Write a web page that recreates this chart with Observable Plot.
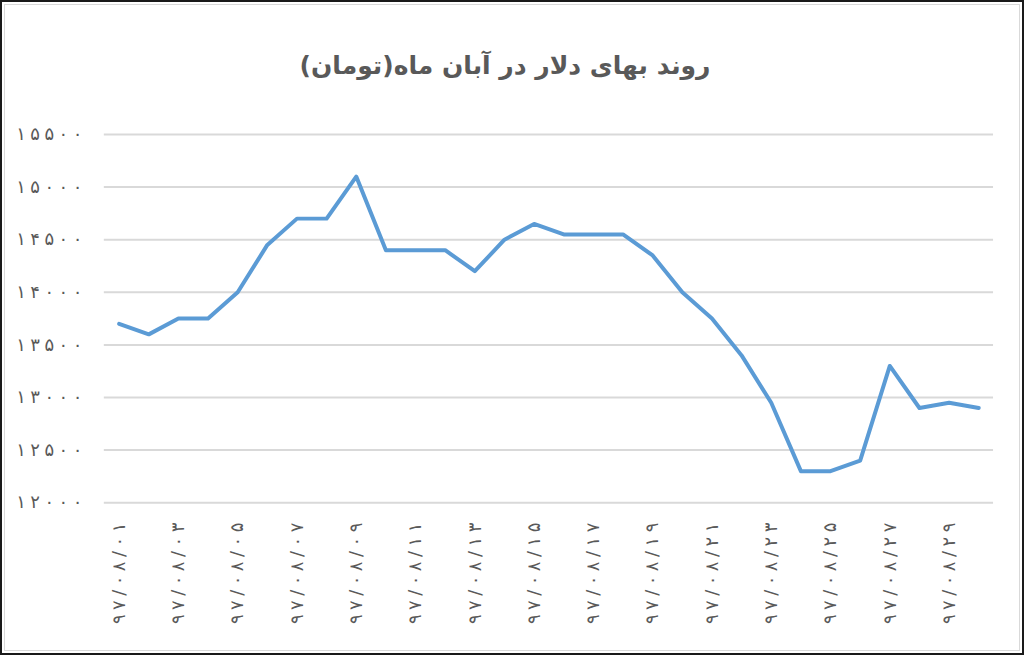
<!DOCTYPE html>
<html>
<head>
<meta charset="utf-8">
<script src="https://cdn.jsdelivr.net/npm/d3@7"></script>
<script src="https://cdn.jsdelivr.net/npm/@observablehq/plot@0.6"></script>
<style>
  html, body { margin: 0; padding: 0; background: #fff; }
  #frame {
    width: 1024px; height: 655px; box-sizing: border-box;
    border: 2px solid #1a1a1a; position: relative; overflow: hidden;
  }
  #inner {
    position: absolute; left: 2px; top: 2px; right: 2px; bottom: 2px;
    border: 1px solid #d9d9d9;
  }
  #title {
    position: absolute; left: 0; top: 0; width: 1006px; height: 108px;
    text-align: center; line-height: 1; padding-top: 51px; box-sizing: border-box;
    font-family: "DejaVu Sans", sans-serif; font-weight: bold; font-size: 25px;
    color: #595959; direction: rtl;
  }
  #chart { position: absolute; left: -2px; top: 108px; }
</style>
</head>
<body>
<div id="frame">
  <div id="inner"></div>
  <div id="title">روند بهای دلار در آبان ماه(تومان)</div>
  <div id="chart"></div>
</div>
<script>
const dates = ["97/08/01","97/08/02","97/08/03","97/08/04","97/08/05","97/08/06","97/08/07","97/08/08","97/08/09","97/08/10",
               "97/08/11","97/08/12","97/08/13","97/08/14","97/08/15","97/08/16","97/08/17","97/08/18","97/08/19","97/08/20",
               "97/08/21","97/08/22","97/08/23","97/08/24","97/08/25","97/08/26","97/08/27","97/08/28","97/08/29","97/08/30"];
const prices = [13700,13600,13750,13750,14000,14450,14700,14700,15100,14400,
                14400,14400,14200,14500,14650,14550,14550,14550,14350,14000,
                13750,13400,12950,12300,12300,12400,13300,12900,12950,12900];
const yTicks = [12000,12500,13000,13500,14000,14500,15000,15500];
const xTicks = dates.filter((d, i) => i % 2 === 0);

// Persian digits, with a narrow space between glyphs (Chrome ignores letter-spacing on Arabic script)
const fa = s => Array.from(String(s).replace(/\d/g, c => "۰۱۲۳۴۵۶۷۸۹"[+c])).join("\u2005");
const data = dates.map((d, i) => ({date: d, price: prices[i]}));

const chart = Plot.plot({
  width: 1024,
  height: 545,
  marginLeft: 104,
  marginRight: 29,
  marginTop: 24,
  marginBottom: 152,
  style: {fontFamily: "DejaVu Sans, sans-serif", fontSize: "18px", color: "#595959", background: "transparent"},
  x: {type: "point", domain: dates, padding: 0.5, round: false, label: null},
  y: {domain: [12000, 15500], label: null},
  marks: [
    Plot.gridY(yTicks, {stroke: "#d9d9d9", strokeOpacity: 1, strokeWidth: 2}),
    Plot.axisY(yTicks, {tickSize: 0, tickPadding: 22, tickFormat: fa, fontSize: 18, fill: "#595959", label: null}),
    Plot.axisX(xTicks, {tickSize: 0, tickPadding: 20, tickRotate: -90, tickFormat: fa, fontSize: 18, fill: "#595959", label: null}),
    Plot.line(data, {x: "date", y: "price", stroke: "#5b9bd5", strokeWidth: 4, strokeLinejoin: "round", strokeLinecap: "round"})
  ]
});
document.getElementById("chart").appendChild(chart);
</script>
</body>
</html>
